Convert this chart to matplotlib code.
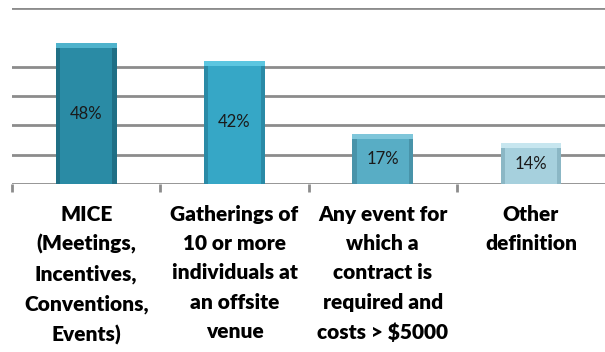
import matplotlib.pyplot as plt
import numpy as np

# survey results: how respondents define a "meeting"
categories = [
    "MICE\n(Meetings,\nIncentives,\nConventions,\nEvents)",
    "Gatherings of\n10 or more\nindividuals at\nan offsite\nvenue",
    "Any event for\nwhich a\ncontract is\nrequired and\ncosts > $5000",
    "Other\ndefinition",
]
values = [48, 42, 17, 14]
bar_colors = ["#2a8ba5", "#36a7c6", "#58adc5", "#a6d0dd"]
top_colors = ["#4fb3cc", "#5cc6e0", "#7fc6da", "#c7e6ef"]
side_colors = ["#1f6f85", "#2a8aa6", "#4893a9", "#8bb7c5"]
gridlines = [10, 20, 30, 40, 60]

fig = plt.figure(figsize=(6.05, 3.52), dpi=100)
ax = fig.add_axes([0.02, 0.477, 0.98, 0.5])

x = np.arange(len(values))
width = 0.41
edge = width * 0.07
vals = np.array(values)

# horizontal grid
for g in gridlines:
    ax.axhline(g, color="#8c8c8c", lw=2.0, zorder=1)

# bars with a light bevel at the top and darker sides
ax.bar(x, vals, width=width, color=bar_colors, lw=0, zorder=3)
ax.bar(x - width / 2, vals, width=edge, align="edge", color=side_colors, lw=0, zorder=4)
ax.bar(x + width / 2 - edge, vals, width=edge, align="edge", color=side_colors, lw=0, zorder=4)
ax.bar(x, [1.6] * len(vals), bottom=vals - 1.6, width=width,
       color=top_colors, lw=0, zorder=5)

for xi, v in zip(x, values):
    ax.text(xi, v / 2, f"{v}%", ha="center", va="center", fontsize=12,
            family="Lato", color="#1a1a1a", zorder=6)

ax.set_xlim(-0.5, 3.5)
ax.set_ylim(0, 60)
ax.set_yticks([])

# category axis with tick marks between groups
ax.axhline(0, color="#8c8c8c", lw=2.0, zorder=2)
ax.set_xticks(np.arange(-0.5, 3.5, 1.0))
ax.set_xticklabels([])
ax.tick_params(axis="x", length=6, width=2, color="#8c8c8c", direction="out")
for s in ax.spines.values():
    s.set_visible(False)

for xi, lab in zip(x, categories):
    ax.text(xi, -7.0, lab, ha="center", va="top", fontsize=15, fontweight="heavy",
            family="Lato", color="#000000", linespacing=1.65, clip_on=False)

fig.savefig("out.png", dpi=100)
